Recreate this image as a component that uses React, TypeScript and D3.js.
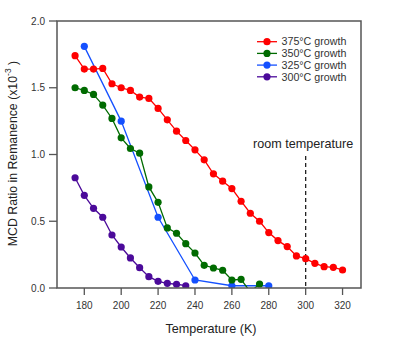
import * as React from "react";
import * as d3 from "d3";

// temperatures (K) and MCD ratio (x10^-3) for each growth temperature
const temps375 = [175, 180, 185, 190, 195, 200, 205, 210, 215, 220, 225, 230, 235, 240, 245, 250, 255, 260, 265, 270, 275, 280, 285, 290, 295, 300, 305, 310, 315, 320];
const vals375 = [1.74, 1.64, 1.64, 1.645, 1.53, 1.5, 1.48, 1.43, 1.42, 1.345, 1.26, 1.175, 1.105, 1.035, 0.96, 0.855, 0.8, 0.745, 0.65, 0.56, 0.5, 0.415, 0.355, 0.31, 0.24, 0.22, 0.185, 0.16, 0.155, 0.135];

const temps350 = [175, 180, 185, 190, 195, 200, 205, 210, 215, 220, 225, 230, 235, 240, 245, 250, 255, 260, 265, 270, 275];
const vals350 = [1.5, 1.48, 1.45, 1.37, 1.27, 1.125, 1.045, 1.01, 0.757, 0.642, 0.45, 0.41, 0.332, 0.262, 0.17, 0.15, 0.133, 0.06, 0.065, -0.03, 0.03];

const temps325 = [180, 200, 220, 240, 260, 280];
const vals325 = [1.81, 1.25, 0.53, 0.06, 0.017, 0.017];

const temps300 = [175, 180, 185, 190, 195, 200, 205, 210, 215, 220, 225, 230, 235];
const vals300 = [0.826, 0.694, 0.597, 0.53, 0.397, 0.307, 0.225, 0.152, 0.085, 0.05, 0.035, 0.028, 0.017];

const seriesNames = ["375°C growth", "350°C growth", "325°C growth", "300°C growth"];
const seriesColors = ["#ff0000", "#006b00", "#1450ff", "#4b0a9a"];

const xTicks = [180, 200, 220, 240, 260, 280, 300, 320];
const yTicks = [0, 0.5, 1.0, 1.5, 2.0];
const roomTemp = 300;

const W = 399;
const H = 339;
const m = { left: 57, right: 38, top: 21, bottom: 51 };

export default function App() {
  const iw = W - m.left - m.right;
  const ih = H - m.top - m.bottom;
  const x = d3.scaleLinear().domain([165.2, 330]).range([0, iw]);
  const y = d3.scaleLinear().domain([0, 2]).range([ih, 0]);

  const allSeries = [
    { t: temps375, v: vals375 },
    { t: temps350, v: vals350 },
    { t: temps325, v: vals325 },
    { t: temps300, v: vals300 },
  ];

  const line = d3.line<[number, number]>().x(d => x(d[0])).y(d => y(d[1]));
  const axisColor = "#555";
  const font = "Arial, 'Liberation Sans', sans-serif";

  return (
    <svg width={W} height={H} style={{ position: "absolute", left: 0, top: 0 }} fontFamily={font}>
      <defs>
        <clipPath id="plotClip">
          <rect x={0} y={-10} width={iw} height={ih + 10} />
        </clipPath>
      </defs>
      <g transform={`translate(${m.left},${m.top})`}>
        {/* dashed room temperature marker */}
        <line x1={x(roomTemp)} x2={x(roomTemp)} y1={135} y2={ih} stroke="#222" strokeWidth={1.3} strokeDasharray="4,3" />
        <text x={x(roomTemp) + 47.5} y={127} textAnchor="end" fontSize={12.6} fill="#222">room temperature</text>

        <g clipPath="url(#plotClip)">
          {allSeries.slice().reverse().map((s, ri) => {
            const i = allSeries.length - 1 - ri;
            const pts = s.t.map((t, k) => [t, s.v[k]] as [number, number]);
            return (
              <g key={i}>
                <path d={line(pts) || ""} fill="none" stroke={seriesColors[i]} strokeWidth={1.3} />
                {pts.map((p, k) => (
                  <circle key={k} cx={x(p[0])} cy={y(p[1])} r={3.6} fill={seriesColors[i]} />
                ))}
              </g>
            );
          })}
        </g>

        {/* frame */}
        <rect x={0} y={0} width={iw} height={ih} fill="none" stroke={axisColor} strokeWidth={1.5} />

        {/* x axis ticks */}
        {xTicks.map(t => (
          <g key={t} transform={`translate(${x(t)},${ih})`}>
            <line y1={0} y2={7} stroke={axisColor} strokeWidth={1.3} />
            <text y={21} textAnchor="middle" fontSize={10} fill="#333">{t}</text>
          </g>
        ))}
        {/* y axis ticks */}
        {yTicks.map(t => (
          <g key={t} transform={`translate(0,${y(t)})`}>
            <line x1={-8} x2={0} stroke={axisColor} strokeWidth={1.3} />
            <text x={-12} dy="0.35em" textAnchor="end" fontSize={10} fill="#333">{t.toFixed(1)}</text>
          </g>
        ))}

        {/* legend */}
        {seriesNames.map((name, i) => (
          <g key={name} transform={`translate(200,${20.7 + i * 11.7})`}>
            <line x1={0} x2={20} stroke={seriesColors[i]} strokeWidth={1.3} />
            <circle cx={10} cy={0} r={3.6} fill={seriesColors[i]} />
            <text x={24.5} dy="0.35em" fontSize={10.7} fill="#333">{name}</text>
          </g>
        ))}

        <text x={iw / 2 + 2} y={ih + 45} textAnchor="middle" fontSize={12.6} fill="#222">Temperature (K)</text>
        <text transform={`translate(-40,${ih / 2 - 1}) rotate(-90)`} textAnchor="middle" fontSize={12.3} fill="#222">
          MCD Ratio in Remanence (x10<tspan dy={-6} fontSize={8.5}>-3</tspan><tspan dy={6}> )</tspan>
        </text>
      </g>
    </svg>
  );
}
